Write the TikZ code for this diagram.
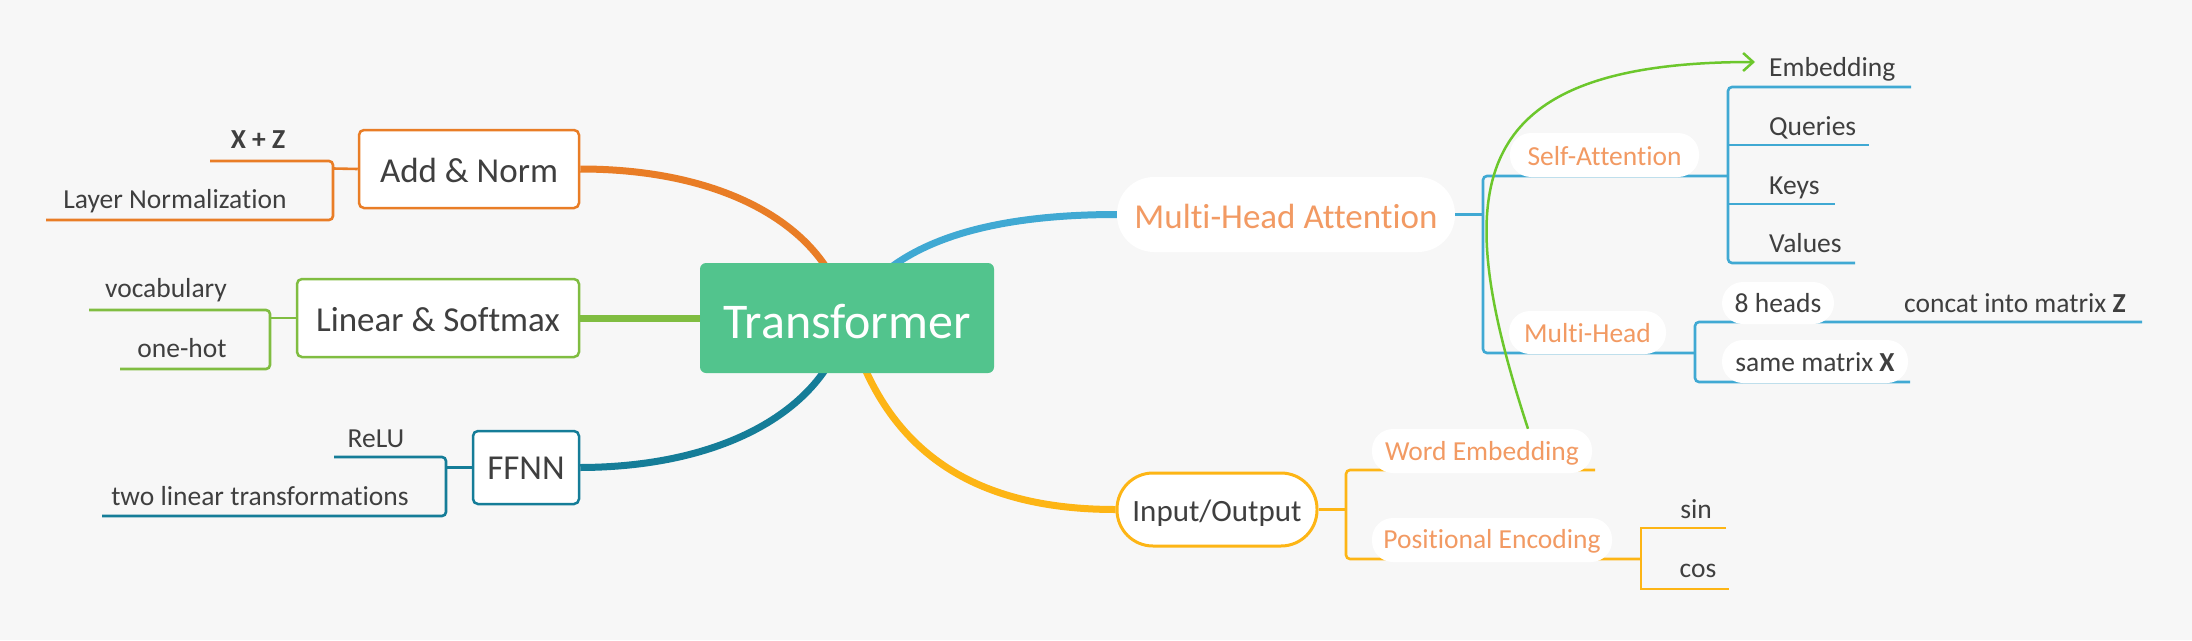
\documentclass[tikz,border=0pt]{standalone}
\usepackage{fontspec}
\setmainfont{Carlito}[Ligatures=NoCommon]
\usetikzlibrary{arrows.meta}
\definecolor{bg}{HTML}{F7F7F7}
\definecolor{cOrange}{HTML}{E97D26}
\definecolor{cGreen}{HTML}{80BD41}
\definecolor{cTeal}{HTML}{157D98}
\definecolor{cBlue}{HTML}{40A9D3}
\definecolor{cYellow}{HTML}{FDB515}
\definecolor{cRoot}{HTML}{52C48D}
\definecolor{cSalmon}{HTML}{F29A63}
\definecolor{cText}{HTML}{3F3F3F}
\definecolor{cArrow}{HTML}{6CC72C}
\begin{document}
\begin{tikzpicture}[x=1pt,y=-1pt,
  mainfont/.style={font=\fontsize{35}{40}\selectfont},
  subfont/.style={font=\fontsize{27.5}{32}\selectfont},
  topicbox/.style={draw, line width=2.5pt, fill=white, rounded corners=5pt, inner sep=0pt,
     text=cText, mainfont, text height=26pt, text depth=0pt},
  pill/.style={fill=white, rounded corners=21pt, inner sep=0pt, text=cSalmon, subfont,
     text height=19pt, text depth=0pt},
  darkpill/.style={pill, text=cText},
  leaf/.style={inner sep=0pt, text=cText, subfont},
  trunk/.style={line width=7pt},
  twig/.style={line width=2.6pt, rounded corners=4pt},
]
\useasboundingbox (0,0) rectangle (2192,640);
\fill[bg] (0,0) rectangle (2192,640);

% ---- topic nodes (positions) ----
\node[topicbox, draw=cOrange, minimum width=220pt, minimum height=78pt] (addnorm) at (469,169) {Add \& Norm};
\node[topicbox, draw=cGreen, minimum width=282pt, minimum height=78pt, text height=27pt] (linsoft) at (438,318) {Linear \& Softmax};
\node[topicbox, draw=cTeal, minimum width=106pt, minimum height=73pt, text height=23pt] (ffnn) at (526,467.5) {FFNN};
\node[pill, rounded corners=37pt, minimum width=338pt, minimum height=75pt, mainfont, text height=27pt] (mha) at (1286,214.5) {Multi-Head Attention};
\node[topicbox, draw=cYellow, line width=3pt, rounded corners=36pt, minimum width=200pt, minimum height=73pt, font=\fontsize{31}{36}\selectfont, text height=23pt] (io) at (1217,509.5) {Input/Output};

% ---- main curves ----
\draw[trunk, cOrange] (addnorm.east) .. controls (730,169) and (830,230) .. (847,318);
\draw[trunk, cTeal] (ffnn.east) .. controls (730,467) and (830,405) .. (847,318);
\draw[trunk, cBlue] (847,318) .. controls (880,255) and (960,214.5) .. (mha.west);
\draw[trunk, cYellow] (847,318) .. controls (880,440) and (960,509.5) .. (io.west);

% ---- root ----
\node[fill=cRoot, rounded corners=6pt, minimum width=294pt, minimum height=110pt, inner sep=0pt,
      text=white, font=\fontsize{50}{56}\selectfont, text height=40pt, text depth=0pt] (root) at (847,318) {Transformer};
\fill[cGreen] ([yshift=-3.5pt]linsoft.east) rectangle ([yshift=3.5pt]root.west);

% ---- left branches ----
\draw[twig, cOrange] (210,161) -- (333,161) -- (333,220) -- (46,220);
\draw[twig, cOrange] (333,168.5) -- (addnorm.west);
\node[leaf, anchor=base, font=\fontsize{27.5}{32}\selectfont\bfseries] (xz) at (258,148) {X + Z};
\node[leaf, anchor=base] (layernorm) at (175,208) {Layer Normalization};

\draw[twig, cGreen] (89,310) -- (270,310) -- (270,369) -- (120,369);
\draw[twig, cGreen] (270,318) -- (linsoft.west);
\node[leaf, anchor=base] (vocab) at (166,297) {vocabulary};
\node[leaf, anchor=base] (onehot) at (182,357) {one-hot};

\draw[twig, cTeal] (334,457) -- (446,457) -- (446,516) -- (102,516);
\draw[twig, cTeal] (446,467.5) -- (ffnn.west);
\node[leaf, anchor=base] (relu) at (376,447) {ReLU};
\node[leaf, anchor=base] (twolin) at (260,505) {two linear transformations};

% ---- attention branch ----
\draw[twig, cBlue] (mha.east) -- (1483,214.5);
\draw[twig, cBlue] (1728,176) -- (1483,176) -- (1483,353) -- (1695,353);
\draw[twig, cBlue] (1911,87) -- (1728,87) -- (1728,263) -- (1855,263);
\draw[twig, cBlue] (1728,145) -- (1869,145);
\draw[twig, cBlue] (1728,204) -- (1835,204);
\draw[twig, cBlue] (2142,322) -- (1695,322) -- (1695,382) -- (1910,382);

\node[pill, minimum width=189pt, minimum height=44pt, text height=20pt] (selfatt) at (1604.5,155) {Self-Attention};
\node[pill, minimum width=157pt, minimum height=43pt] (multihead) at (1587.5,332.5) {Multi-Head};
\node[darkpill, minimum width=112pt, minimum height=42pt, text height=18pt] (heads) at (1778,303) {8 heads};
\node[darkpill, minimum width=186pt, minimum height=43pt] (samex) at (1815,361.5) {same matrix \textbf{X}};

\node[leaf, anchor=base west] (embed) at (1769,76) {Embedding};
\node[leaf, anchor=base west] (queries) at (1769,135) {Queries};
\node[leaf, anchor=base west] (keys) at (1769,194) {Keys};
\node[leaf, anchor=base west] (values) at (1769,252) {Values};
\node[leaf, anchor=base west] (concat) at (1904,312) {concat into matrix \textbf{Z}};

% ---- input/output branch ----
\draw[twig, cYellow] (io.east) -- (1346,509.5);
\draw[twig, cYellow] (1595,470) -- (1346,470) -- (1346,559) -- (1641,559);
\draw[line width=2.6pt, cYellow] (1726,528) -- (1641,528) -- (1641,589) -- (1729,589);

\node[pill, minimum width=220pt, minimum height=44pt, text height=18pt] (wordemb) at (1482,451) {Word Embedding};
\node[pill, minimum width=240pt, minimum height=44pt, text height=16pt] (posenc) at (1492,540) {Positional Encoding};
\node[leaf, anchor=base] (sin) at (1696,518) {sin};
\node[leaf, anchor=base] (cos) at (1698,577) {cos};

% ---- arrow ----
\coordinate (arrend) at (1755,62);
\draw[cArrow, line width=2.5pt, -{Straight Barb[length=10pt,width=18pt]}]
  ([xshift=46pt]wordemb.north) .. controls (1450,190) and (1460,62) .. (arrend);
\end{tikzpicture}
\end{document}
